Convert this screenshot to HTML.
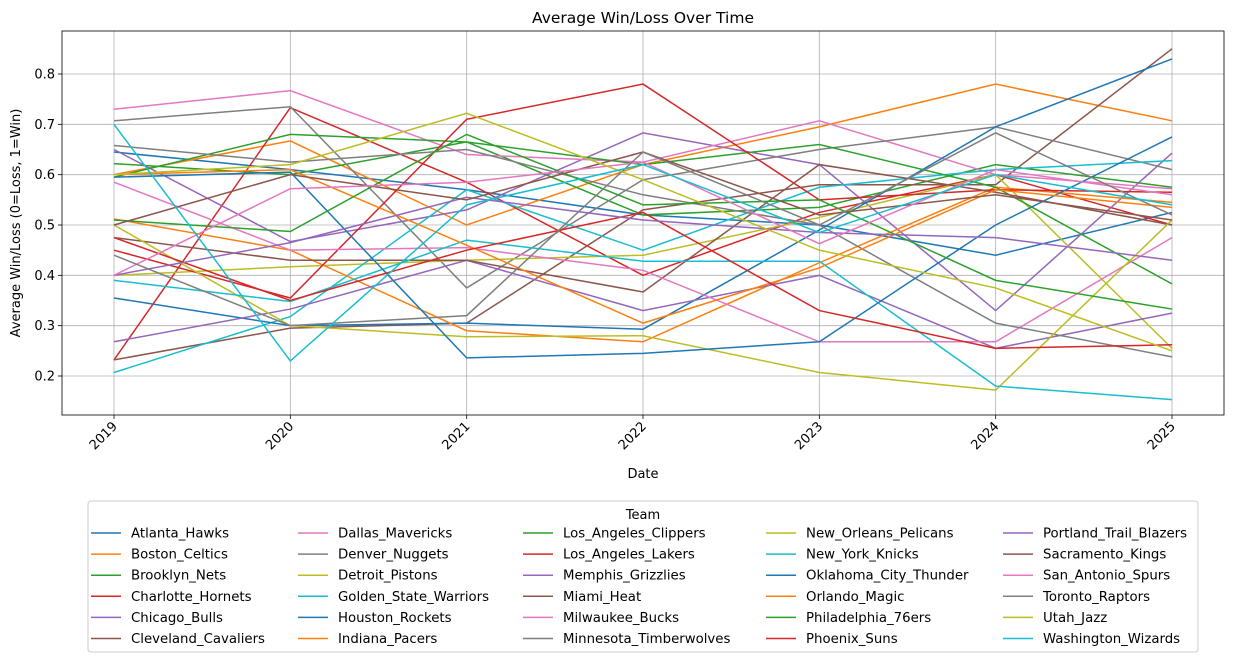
<!DOCTYPE html>
<html><head><meta charset="utf-8"><style>
html,body{margin:0;padding:0;background:#fff;}
svg{display:block;font-family:"DejaVu Sans","Liberation Sans",sans-serif;}
</style></head><body>
<svg id="chart" width="1233" height="662" viewBox="0 0 1233 662" xmlns="http://www.w3.org/2000/svg"></svg>
<script>
const years = ["2019","2020","2021","2022","2023","2024","2025"];
const yTicks = [0.2,0.3,0.4,0.5,0.6,0.7,0.8];
const teams = ["Atlanta_Hawks","Boston_Celtics","Brooklyn_Nets","Charlotte_Hornets","Chicago_Bulls","Cleveland_Cavaliers","Dallas_Mavericks","Denver_Nuggets","Detroit_Pistons","Golden_State_Warriors","Houston_Rockets","Indiana_Pacers","Los_Angeles_Clippers","Los_Angeles_Lakers","Memphis_Grizzlies","Miami_Heat","Milwaukee_Bucks","Minnesota_Timberwolves","New_Orleans_Pelicans","New_York_Knicks","Oklahoma_City_Thunder","Orlando_Magic","Philadelphia_76ers","Phoenix_Suns","Portland_Trail_Blazers","Sacramento_Kings","San_Antonio_Spurs","Toronto_Raptors","Utah_Jazz","Washington_Wizards"];
const values = [
[0.645,0.61,0.57,0.52,0.50,0.44,0.525],
[0.60,0.667,0.50,0.62,0.695,0.78,0.707],
[0.622,0.60,0.665,0.52,0.535,0.62,0.575],
[0.232,0.733,0.585,0.40,0.525,0.60,0.50],
[0.65,0.467,0.53,0.683,0.62,0.33,0.643],
[0.232,0.295,0.305,0.53,0.58,0.58,0.85],
[0.73,0.767,0.64,0.625,0.707,0.60,0.572],
[0.707,0.735,0.375,0.59,0.65,0.695,0.61],
[0.40,0.417,0.43,0.44,0.515,0.60,0.255],
[0.207,0.318,0.57,0.45,0.575,0.61,0.628],
[0.355,0.30,0.305,0.293,0.49,0.695,0.83],
[0.512,0.45,0.29,0.268,0.425,0.575,0.545],
[0.595,0.68,0.665,0.62,0.66,0.575,0.383],
[0.45,0.355,0.71,0.78,0.55,0.57,0.565],
[0.268,0.333,0.43,0.33,0.40,0.255,0.325],
[0.475,0.43,0.43,0.367,0.62,0.565,0.50],
[0.585,0.45,0.455,0.41,0.268,0.268,0.475],
[0.658,0.625,0.65,0.56,0.50,0.305,0.238],
[0.50,0.30,0.278,0.28,0.207,0.172,0.51],
[0.39,0.348,0.47,0.428,0.428,0.18,0.153],
[0.595,0.605,0.236,0.245,0.268,0.50,0.675],
[0.60,0.61,0.46,0.305,0.415,0.57,0.535],
[0.51,0.487,0.68,0.54,0.55,0.39,0.333],
[0.475,0.35,0.45,0.525,0.33,0.255,0.262],
[0.40,0.465,0.555,0.51,0.485,0.475,0.43],
[0.50,0.60,0.55,0.645,0.52,0.56,0.51],
[0.40,0.572,0.585,0.625,0.463,0.61,0.56],
[0.44,0.30,0.32,0.645,0.50,0.683,0.52],
[0.60,0.62,0.722,0.59,0.45,0.375,0.25],
[0.70,0.23,0.54,0.62,0.485,0.60,0.54]
];
const palette = ["#1f77b4","#ff7f0e","#2ca02c","#d62728","#9467bd","#8c564b","#e377c2","#7f7f7f","#bcbd22","#17becf"];
const NS="http://www.w3.org/2000/svg";
const svg=document.getElementById('chart');
const L=62,R=1224,T=31,B=415;
const x=i=>114+i*(1172-114)/(years.length-1);
const y=v=>376-(v-0.2)*(376-74)/0.6;
function mk(tag,attrs,parent){const e=document.createElementNS(NS,tag);for(const k in attrs)e.setAttribute(k,attrs[k]);(parent||svg).appendChild(e);return e;}
years.forEach((yr,i)=>{
  const g=mk('line',{x1:x(i),x2:x(i),y1:T,y2:B,stroke:'#b0b0b0','stroke-width':0.8});
  
  
  mk('line',{x1:x(i),x2:x(i),y1:B,y2:B+4,stroke:'#000','stroke-width':0.8});
  const t=mk('text',{x:0,y:0,'font-size':13,'text-anchor':'end',transform:`translate(${x(i)+4},${B+12}) rotate(-45)`});
  t.textContent=yr;
  
  
});
yTicks.forEach(v=>{
  const g=mk('line',{x1:L,x2:R,y1:y(v),y2:y(v),stroke:'#b0b0b0','stroke-width':0.8});
  
  
  mk('line',{x1:L-4,x2:L,y1:y(v),y2:y(v),stroke:'#000','stroke-width':0.8});
  const t=mk('text',{x:L-7,y:y(v)+4.5,'font-size':13,'text-anchor':'end'});
  t.textContent=v.toFixed(1);
  
  
});
teams.forEach((tm,s)=>{
  const p=mk('polyline',{points:values[s].map((v,i)=>x(i)+','+y(v)).join(' '),fill:'none',stroke:palette[s%10],'stroke-width':1.5});
  
  
});
const frame=mk('rect',{x:L,y:T,width:R-L,height:B-T,fill:'none',stroke:'#000','stroke-width':0.8});


const title=mk('text',{x:(L+R)/2,y:23,'font-size':15.5,'text-anchor':'middle'});
title.textContent='Average Win/Loss Over Time';


const xt=mk('text',{x:(L+R)/2,y:478,'font-size':13,'text-anchor':'middle'});
xt.textContent='Date';


const yt=mk('text',{x:0,y:0,'font-size':13,'text-anchor':'middle',transform:`translate(20,${(T+B)/2}) rotate(-90)`});
yt.textContent='Average Win/Loss (0=Loss, 1=Win)';


const lg=mk('g',{});


mk('rect',{x:88,y:501,width:1110,height:151,rx:3,fill:'#fff',stroke:'#ccc','stroke-width':1},lg);
const lt=mk('text',{x:643,y:519,'font-size':13,'text-anchor':'middle'},lg);
lt.textContent='Team';
const colX=[91,298,523,766,1003];
teams.forEach((tm,s)=>{
  const c=Math.floor(s/6), r=s%6;
  const yy=533+r*21.1;
  const e=mk('g',{},lg);
  
  
  mk('line',{x1:colX[c],x2:colX[c]+30,y1:yy,y2:yy,stroke:palette[s%10],'stroke-width':1.5},e);
  const t=mk('text',{x:colX[c]+40,y:yy+4.5,'font-size':13.3},e);
  t.textContent=tm;
});
</script>
</body></html>
